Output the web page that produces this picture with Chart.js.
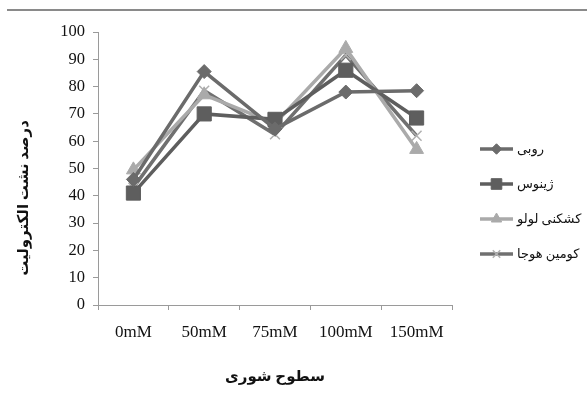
<!DOCTYPE html>
<html>
<head>
<meta charset="utf-8">
<script src="https://cdn.jsdelivr.net/npm/chart.js@4/dist/chart.umd.min.js"></script>
<style>
  html, body { margin: 0; padding: 0; background: #ffffff; }
  #wrap { position: relative; width: 587px; height: 399px; }
  canvas { display: block; }
</style>
</head>
<body>
<div id="wrap"><canvas id="chart" width="587" height="399"></canvas></div>
<script>
// Salinity levels on the x axis
const categories = ['0mM', '50mM', '75mM', '100mM', '150mM'];

// Electrolyte leakage (%) per cultivar
const seriesNames = ['روبی', 'ژینوس', 'کشکنی لولو', 'کومین هوجا'];
const rubyValues   = [46, 85.5, 64.5, 78, 78.5];
const zhinusValues = [41, 70, 68, 86, 68.5];
const kashkaniValues = [49.5, 77, 66.5, 94, 57];
const kominValues  = [43, 78.5, 62.5, 91.5, 62];

const yTicks = [0, 10, 20, 30, 40, 50, 60, 70, 80, 90, 100];
const xTitle = 'سطوح شوری';
const yTitle = 'درصد نشت الکترولیت';

const serif = '"Liberation Serif", "DejaVu Serif", "DejaVu Sans", serif';

// Horizontal rule across the top of the figure
const topRule = {
  id: 'topRule',
  beforeDraw(chart) {
    const ctx = chart.ctx;
    ctx.save();
    ctx.strokeStyle = '#8a8a8a';
    ctx.lineWidth = 2;
    ctx.beginPath();
    ctx.moveTo(7, 10);
    ctx.lineTo(587, 10);
    ctx.stroke();
    ctx.restore();
  }
};

// Vertical axis title, placed beside the tick labels
const yAxisTitle = {
  id: 'yAxisTitle',
  afterDraw(chart) {
    const ctx = chart.ctx;
    ctx.save();
    ctx.translate(24, 198);
    ctx.rotate(-Math.PI / 2);
    ctx.fillStyle = '#111';
    ctx.font = 'bold 15px ' + serif;
    ctx.textAlign = 'center';
    ctx.textBaseline = 'middle';
    ctx.fillText(yTitle, 0, 0);
    ctx.restore();
  }
};

// Legend on the right: line segment with the marker, then the name
const sideLegend = {
  id: 'sideLegend',
  afterDraw(chart) {
    const ctx = chart.ctx;
    const x0 = 480, x1 = 513, textX = 517;
    const yStart = 149, step = 35;
    chart.data.datasets.forEach((ds, i) => {
      const y = yStart + i * step;
      ctx.save();
      ctx.strokeStyle = ds.borderColor;
      ctx.lineWidth = ds.borderWidth;
      ctx.beginPath();
      ctx.moveTo(x0, y);
      ctx.lineTo(x1, y);
      ctx.stroke();
      ctx.fillStyle = ds.pointBackgroundColor;
      ctx.strokeStyle = ds.pointBorderColor;
      ctx.lineWidth = ds.pointBorderWidth;
      Chart.helpers.drawPoint(ctx, {
        pointStyle: ds.pointStyle,
        radius: ds.pointRadius * 0.75,
        borderWidth: ds.pointBorderWidth,
        rotation: 0
      }, (x0 + x1) / 2, y);
      ctx.restore();
      ctx.save();
      ctx.fillStyle = '#111';
      ctx.font = '13px ' + serif;
      ctx.textBaseline = 'middle';
      ctx.direction = 'rtl';
      ctx.textAlign = 'right';
      const w = ctx.measureText(ds.label).width;
      ctx.fillText(ds.label, textX + w, y + 1);
      ctx.restore();
    });
  }
};

function makeSet(label, values, color, style, radius, pointColor, pointBorder, pointBorderWidth) {
  return {
    label: label,
    data: values,
    borderColor: color,
    borderWidth: 3.5,
    backgroundColor: pointColor,
    pointStyle: style,
    pointRadius: radius,
    pointHoverRadius: radius,
    pointBackgroundColor: pointColor,
    pointBorderColor: pointBorder,
    pointBorderWidth: pointBorderWidth,
    tension: 0,
    fill: false
  };
}

const chart = new Chart(document.getElementById('chart'), {
  type: 'line',
  data: {
    labels: categories,
    datasets: [
      makeSet(seriesNames[0], rubyValues, '#6b6b6b', 'rectRot', 7, '#6b6b6b', '#6b6b6b', 1),
      makeSet(seriesNames[1], zhinusValues, '#5e5e5e', 'rect', 10, '#5e5e5e', '#5e5e5e', 1),
      makeSet(seriesNames[2], kashkaniValues, '#aaaaaa', 'triangle', 8, '#aaaaaa', '#aaaaaa', 1),
      makeSet(seriesNames[3], kominValues, '#707070', 'crossRot', 7, '#b0b0b0', '#b0b0b0', 1.5)
    ]
  },
  options: {
    responsive: false,
    animation: false,
    devicePixelRatio: 1,
    layout: { padding: { top: 32, right: 135, bottom: 0, left: 0 } },
    plugins: {
      legend: { display: false },
      tooltip: { enabled: false },
      title: { display: false }
    },
    scales: {
      x: {
        type: 'category',
        offset: true,
        grid: {
          display: true,
          offset: true,
          drawOnChartArea: false,
          drawTicks: true,
          tickLength: 5,
          color: '#9a9a9a',
          lineWidth: 1
        },
        border: { display: true, color: '#9a9a9a', width: 1 },
        ticks: {
          color: '#111',
          font: { family: serif, size: 17 },
          padding: 12,
          maxRotation: 0,
          autoSkip: false
        },
        title: {
          display: true,
          text: xTitle,
          color: '#111',
          font: { family: serif, size: 15, weight: 'bold' },
          padding: { top: 4, bottom: 13 }
        },
        afterFit(scale) { scale.height = 94; }
      },
      y: {
        min: 0,
        max: 100,
        afterBuildTicks(scale) { scale.ticks = yTicks.map(v => ({ value: v })); },
        grid: {
          display: true,
          drawOnChartArea: false,
          drawTicks: true,
          tickLength: 5,
          color: '#9a9a9a',
          lineWidth: 1
        },
        border: { display: true, color: '#9a9a9a', width: 1 },
        ticks: {
          color: '#111',
          font: { family: serif, size: 16.5 },
          padding: 8
        },
        afterFit(scale) { scale.width = 98; }
      }
    }
  },
  plugins: [topRule, yAxisTitle, sideLegend]
});
</script>
</body>
</html>
